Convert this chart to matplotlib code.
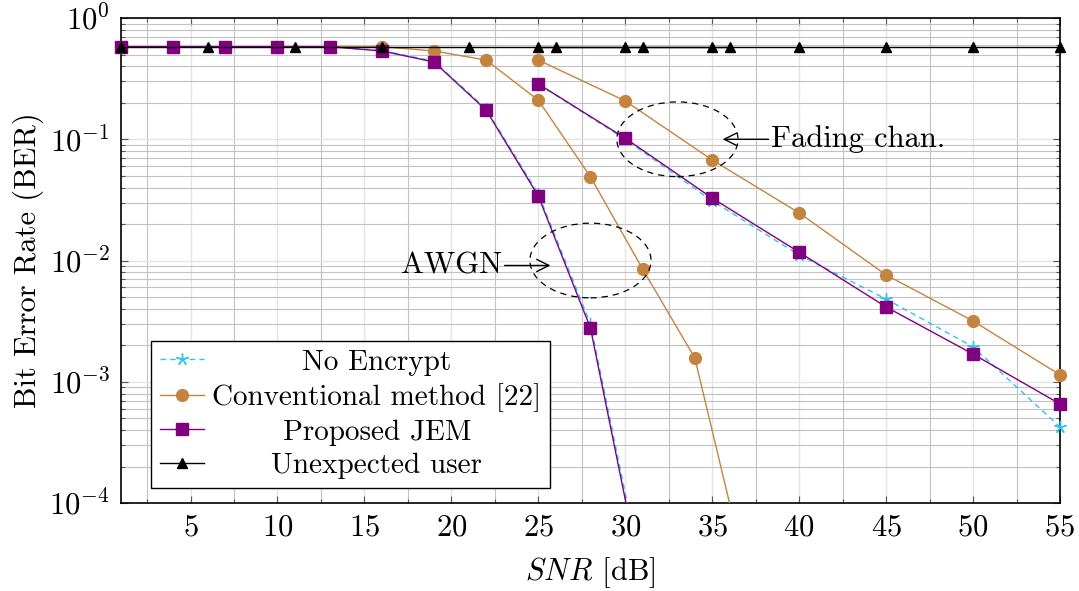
import numpy as np
import matplotlib
matplotlib.use('Agg')
import matplotlib.pyplot as plt
from matplotlib.lines import Line2D
from matplotlib.patches import Ellipse
from matplotlib.ticker import LogLocator, MultipleLocator, NullFormatter

plt.rcParams['font.family'] = 'serif'
plt.rcParams['font.serif'] = ['cmr10']
plt.rcParams['mathtext.fontset'] = 'cm'
plt.rcParams['axes.formatter.use_mathtext'] = True
plt.rcParams['font.size'] = 22

# AWGN channel
snr_awgn = [1, 4, 7, 10, 13, 16, 19, 22, 25, 28, 31]
noenc_awgn = [0.58, 0.58, 0.58, 0.58, 0.58, 0.54, 0.44, 0.178, 0.0355, 0.0030, 2.4e-5]
jem_awgn = [0.58, 0.58, 0.58, 0.58, 0.58, 0.535, 0.434, 0.174, 0.034, 0.00277, 2.1e-5]
snr_conv_awgn = [1, 4, 7, 10, 13, 16, 19, 22, 25, 28, 31, 34, 37]
conv_awgn = [0.58, 0.58, 0.58, 0.58, 0.58, 0.58, 0.535, 0.45, 0.21, 0.049, 0.0085, 0.00157, 2.5e-5]
snr_unexp_awgn = [1, 6, 11, 16, 21, 26, 31, 36]
unexp_awgn = [0.58, 0.58, 0.58, 0.58, 0.58, 0.58, 0.58, 0.58]

# fading channel
snr_fade = [25, 30, 35, 40, 45, 50, 55]
noenc_fade = [0.285, 0.100, 0.031, 0.0111, 0.00481, 0.00194, 0.000424]
conv_fade = [0.45, 0.207, 0.0675, 0.0247, 0.0076, 0.00317, 0.00114]
jem_fade = [0.286, 0.102, 0.0327, 0.0117, 0.00414, 0.00169, 0.000656]
unexp_fade = [0.58, 0.58, 0.58, 0.58, 0.58, 0.58, 0.58]

labels = ['No Encrypt', 'Conventional method [22]', 'Proposed JEM', 'Unexpected user']

cyan = '#2ec4f0'
brown = '#c4843f'
purple = '#800080'

styles = [
    dict(color=cyan, ls=(0, (4, 3)), marker=(5, 2, 0), ms=9, mew=1.0, lw=1.0),
    dict(color=brown, ls='-', marker='o', ms=8.5, mew=1.0, lw=1.0),
    dict(color=purple, ls='-', marker='s', ms=8.5, mew=1.0, lw=1.0),
    dict(color='black', ls='-', marker='^', ms=7.5, mew=1.0, lw=1.0),
]

YMIN, YMAX = 1e-4, 1.0

fig = plt.figure(figsize=(10.79, 5.91), dpi=100)
ax = fig.add_axes([0.1121, 0.1489, 0.8703, 0.8206])


def curve(x, y, st, z):
    # line is clipped to the axes, markers are not (like pgfplots)
    ax.plot(x, y, color=st['color'], ls=st['ls'], lw=st['lw'], zorder=z)
    ym = np.ma.masked_less(np.array(y), YMIN)
    ax.plot(x, ym, ls='none', marker=st['marker'], ms=st['ms'], mew=st['mew'],
            color=st['color'], mec=st['color'], clip_on=False, zorder=z + 0.5)


curve(snr_awgn, noenc_awgn, styles[0], 3)
curve(snr_fade, noenc_fade, styles[0], 3)
curve(snr_conv_awgn, conv_awgn, styles[1], 4)
curve(snr_fade, conv_fade, styles[1], 4)
curve(snr_awgn, jem_awgn, styles[2], 5)
curve(snr_fade, jem_fade, styles[2], 5)
curve(snr_unexp_awgn, unexp_awgn, styles[3], 6)
curve(snr_fade, unexp_fade, styles[3], 6)

ax.set_yscale('log')
ax.set_xlim(1, 55)
ax.set_ylim(YMIN, YMAX)
ax.xaxis.set_major_locator(MultipleLocator(5))
ax.xaxis.set_minor_locator(MultipleLocator(2.5))
ax.yaxis.set_major_locator(LogLocator(base=10, numticks=10))
ax.yaxis.set_minor_locator(LogLocator(base=10, subs=np.arange(2, 10), numticks=20))
ax.yaxis.set_minor_formatter(NullFormatter())

ax.grid(which='major', color='#e4e4e4', lw=1.0, zorder=0)
ax.grid(which='minor', color='#c2c2c2', lw=0.8, zorder=0)
ax.set_axisbelow(True)
ax.tick_params(which='both', direction='in', top=True, right=True, width=0.8, color='#555555')
ax.tick_params(which='major', length=5, pad=8)
ax.tick_params(which='minor', length=3)
for sp in ax.spines.values():
    sp.set_linewidth(1.2)

ax.set_xlabel('$SNR$ [dB]', labelpad=10)
ax.set_ylabel('Bit Error Rate (BER)', labelpad=4)

# annotations
to_ax = ax.transAxes.inverted()
for cx, cy in [(33, 1e-1), (28, 1e-2)]:
    fig.canvas.draw()
    c = to_ax.transform(ax.transData.transform((cx, cy)))
    ax.add_patch(Ellipse(c, 0.129, 0.154, transform=ax.transAxes, fill=False,
                         ls=(0, (5, 4)), lw=0.9, ec='black', zorder=7))

ax.annotate('Fading chan.', xy=(35.6, 0.1), xytext=(38.4, 0.1), ha='left', va='center',
            arrowprops=dict(arrowstyle='->', lw=1.0, color='black', shrinkA=0, shrinkB=0),
            zorder=8)
ax.annotate('AWGN', xy=(25.7, 0.0091), xytext=(22.9, 0.0091), ha='right', va='center',
            arrowprops=dict(arrowstyle='->', lw=1.0, color='black', shrinkA=0, shrinkB=0),
            zorder=8)

handles = [Line2D([], [], color=st['color'], ls=st['ls'], lw=st['lw'], marker=st['marker'],
                  ms=st['ms'], mew=st['mew'], mec=st['color']) for st in styles]
leg = ax.legend(handles, labels, loc='lower left', bbox_to_anchor=(0.032, 0.031),
                borderaxespad=0, fancybox=False, framealpha=1, edgecolor='black',
                fontsize=21, handlelength=1.5, handletextpad=0.3, labelspacing=0.25,
                borderpad=0.3)
leg.get_frame().set_linewidth(1.0)
leg.set_zorder(10)

# center the legend texts like pgfplots
fig.canvas.draw()
r = fig.canvas.get_renderer()
texts = leg.get_texts()
widths = [t.get_window_extent(r).width for t in texts]
wmax = max(widths)
for t, w in zip(texts, widths):
    t.set_x((wmax - w) / 2)

fig.savefig('out.png', dpi=100)
